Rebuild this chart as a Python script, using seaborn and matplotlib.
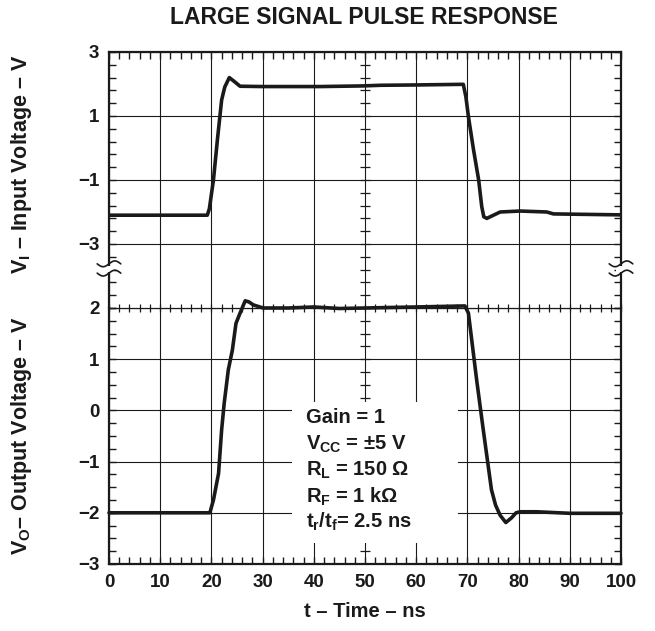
import numpy as np
import matplotlib
matplotlib.use('Agg')
import matplotlib.pyplot as plt
import seaborn as sns
import pandas as pd
from matplotlib.ticker import FixedLocator, MultipleLocator
from matplotlib.patches import Rectangle

# input voltage trace (top panel)
t_in = [0, 19.2, 19.6, 20.4, 21.2, 22.0, 22.6, 23.5, 24.3, 25.6, 30, 41.2, 49.6,
        53.1, 60, 69.2, 69.7, 70.2, 71.2, 72.2, 72.8, 73.2, 73.8, 74.7, 76.4,
        80.3, 85.5, 86.8, 100]
v_in = [-2.1, -2.1, -1.9, -1.0, 0.3, 1.5, 1.9, 2.2, 2.1, 1.93, 1.92, 1.92, 1.94,
        1.96, 1.97, 1.99, 1.6, 0.98, -0.06, -1.0, -1.83, -2.15, -2.2, -2.13, -2.0,
        -1.97, -2.0, -2.06, -2.09]

# output voltage trace (bottom panel)
t_out = [0, 19.7, 20.4, 21.4, 22.0, 22.5, 23.3, 24.1, 24.8, 25.6, 26.6, 27.3,
         28.2, 30.1, 35, 40, 45, 50, 60, 69.5, 70.2, 71.8, 73.1, 74.7, 75.5,
         76.4, 77.5, 78.6, 79.5, 80.3, 83.5, 90, 100]
v_out = [-2.0, -2.0, -1.75, -1.23, -0.38, 0.14, 0.79, 1.18, 1.7, 1.9, 2.14, 2.12,
         2.06, 2.0, 2.0, 2.02, 1.99, 2.0, 2.02, 2.04, 1.9, 0.6, -0.38, -1.55, -1.85,
         -2.05, -2.19, -2.1, -2.0, -1.98, -1.98, -2.01, -2.01]

x_ticks = [0, 10, 20, 30, 40, 50, 60, 70, 80, 90, 100]
vi_ticks = [3, 1, -1, -3]
vo_ticks = [2, 1, 0, -1, -2, -3]
notes = ['Gain = 1', r'$V_{CC}$ = ±5 V', r'$R_L$ = 150 Ω', r'$R_F$ = 1 kΩ',
         r'$t_r$/$t_f$= 2.5 ns']
note_y = [-0.25, -0.77, -1.28, -1.81, -2.30]

ink = '#1a1a1a'

sns.set_theme(style='white')
plt.rcParams['font.family'] = ['Liberation Sans', 'DejaVu Sans']
plt.rcParams['font.weight'] = 'bold'
plt.rcParams['mathtext.fontset'] = 'custom'
plt.rcParams['mathtext.rm'] = 'Liberation Sans:bold'
plt.rcParams['mathtext.it'] = 'Liberation Sans:bold'
plt.rcParams['mathtext.bf'] = 'Liberation Sans:bold'
plt.rcParams['text.color'] = ink
plt.rcParams['xtick.color'] = ink
plt.rcParams['ytick.color'] = ink
plt.rcParams['axes.labelcolor'] = ink

fig = plt.figure(figsize=(6.55, 6.31), dpi=100)
left, width, h = 0.1664, 0.7817, 0.4057
ax_bot = fig.add_axes([left, 0.1062, width, h])
ax_top = fig.add_axes([left, 0.1062 + h, width, h], sharex=ax_bot)
ax_top.set_zorder(1)
ax_bot.set_zorder(2)
ax_bot.patch.set_visible(False)

df_in = pd.DataFrame({'t': t_in, 'v': v_in})
df_out = pd.DataFrame({'t': t_out, 'v': v_out})
sns.lineplot(data=df_in, x='t', y='v', ax=ax_top, color=ink, lw=2.6,
             sort=False, zorder=3)
sns.lineplot(data=df_out, x='t', y='v', ax=ax_bot, color=ink, lw=2.6,
             sort=False, zorder=3, clip_on=False)

ax_bot.set_xlim(0, 100)
ax_top.set_ylim(-5, 3)
ax_bot.set_ylim(-3, 2)

ax_bot.set_xticks(x_ticks)
ax_top.set_yticks(vi_ticks)
ax_bot.set_yticks(vo_ticks)
ax_bot.xaxis.set_minor_locator(MultipleLocator(2))
ax_top.yaxis.set_minor_locator(FixedLocator(np.linspace(-5, 3, 21)))
ax_bot.yaxis.set_minor_locator(MultipleLocator(0.25))

for ax in (ax_top, ax_bot):
    ax.grid(True, which='major', color=ink, lw=0.8)
    ax.tick_params(which='both', direction='in', length=5, width=1, color=ink,
                   left=True, right=True, labelsize=13.5, pad=7)
    for s in ax.spines.values():
        s.set_color(ink)
        s.set_linewidth(1.6)

ax_top.tick_params(axis='x', which='both', top=True, bottom=False,
                   labelbottom=False)
ax_bot.tick_params(axis='x', which='both', bottom=True, top=False)
ax_top.spines['bottom'].set_visible(False)
ax_bot.spines['top'].set_visible(False)

# centre graticule lines with their small cross ticks
ax_bot.axhline(2, color=ink, lw=0.9, clip_on=False, zorder=1)
xm = np.arange(0, 101, 2)
ax_bot.vlines(xm, 1.92, 2.08, color=ink, lw=0.9, clip_on=False, zorder=0.8)
ax_top.hlines(np.linspace(-5, 3, 21), 49, 51, color=ink, lw=0.9, zorder=0.8)
ax_bot.hlines(np.arange(-3, 2.01, 0.25), 49, 51, color=ink, lw=0.9, zorder=0.8)

# white panel behind the test conditions
ax_bot.add_patch(Rectangle((35.7, -2.59), 32.5, 2.75, facecolor='white',
                           edgecolor='none', zorder=1))
for s, y in zip(notes, note_y):
    ax_bot.text(38.5, y, s, fontsize=14.5, fontweight='bold', va='baseline',
                ha='left', zorder=4)

# axis break marks on both sides
dx = np.linspace(-2.3, 2.3, 40)
for xb in (0, 100):
    ax_top.add_patch(Rectangle((xb - 1.0, -3.86), 2.0, 0.18, facecolor='white',
                               edgecolor='none', zorder=6, clip_on=False))
    for yb in (-3.62, -3.91):
        ax_top.plot(xb + dx, yb + 0.09 * np.sin(np.pi * dx / 2.3), color=ink,
                    lw=1.2, clip_on=False, zorder=7)

ax_top.set_xlabel('')
ax_top.set_ylabel(r'$V_I$ – Input Voltage – V', fontsize=15.5, fontweight='bold')
ax_top.yaxis.set_label_coords(-0.146, 0.56)
ax_bot.set_ylabel(r'$V_O$– Output Voltage – V', fontsize=15.5, fontweight='bold')
ax_bot.yaxis.set_label_coords(-0.146, 0.5)
ax_bot.set_xlabel('t – Time – ns', fontsize=14.5, fontweight='bold')
ax_bot.xaxis.set_label_coords(0.5, -0.148)

fig.text(0.556, 1 - 18 / 631, 'LARGE SIGNAL PULSE RESPONSE', ha='center',
         va='center', fontsize=16.5, fontweight='bold')

fig.savefig('out.png', dpi=100, facecolor='white')
